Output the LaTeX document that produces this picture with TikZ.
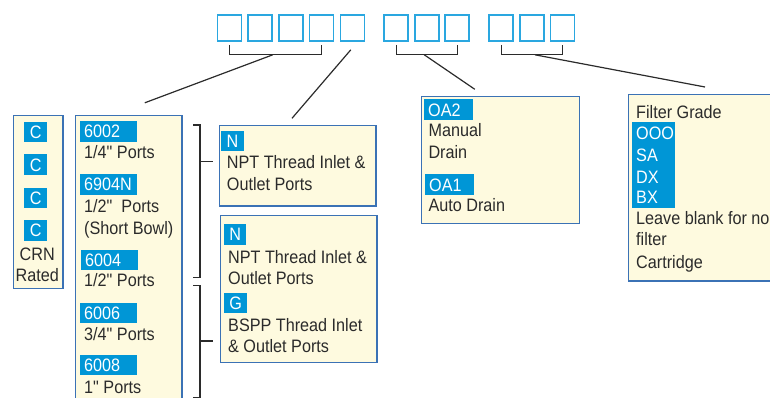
\documentclass[tikz,border=0pt]{standalone}
\usepackage{fontspec}
\setmainfont{Liberation Sans}[FakeStretch=0.9, Ligatures=TeXOff]
\usetikzlibrary{positioning, calc}

\definecolor{sqblue}{HTML}{2AA7E0}
\definecolor{tagblue}{HTML}{0096D6}
\definecolor{boxblue}{HTML}{3B72B5}
\definecolor{cream}{HTML}{FEFADF}
\definecolor{inkgray}{HTML}{2B2B2B}

\begin{document}
\begin{tikzpicture}[x=1pt, y=-1pt,
    every node/.style={font=\fontsize{18}{21.7}\selectfont, text=inkgray},
    sq/.style={rectangle, draw=sqblue, line width=1.6pt, minimum width=24pt, minimum height=26pt, inner sep=0pt},
    box/.style={rectangle, draw=boxblue, line width=1.5pt, fill=cream, anchor=north west, inner sep=0pt},
    tag/.style={rectangle, fill=tagblue, text=white, anchor=north west, inner xsep=4pt, inner ysep=0pt, minimum height=20.5pt, text height=12.9pt, text depth=0pt, text width=#1, align=left},
    ctag/.style={rectangle, fill=tagblue, text=white, anchor=north west, inner sep=0pt, minimum width=#1, minimum height=20.5pt, text height=12.9pt, text depth=0pt},
    txt/.style={anchor=base west, inner sep=0pt},
    brk/.style={draw=inkgray, line width=1.4pt},
    link/.style={draw=inkgray, line width=1.2pt}
]

    \useasboundingbox (0,0) rectangle (770,398);
    \clip (0,0) rectangle (770,398);

    % Code squares
    \foreach \i in {1,...,5} {
        \node[sq] (a\i) at ({229.5+30.7*(\i-1)}, 28) {};
    }
    \foreach \i in {1,2,3} {
        \node[sq] (o\i) at ({396.2+30.5*(\i-1)}, 28) {};
    }
    \foreach \i in {1,2,3} {
        \node[sq] (f\i) at ({501.2+30.65*(\i-1)}, 28) {};
    }

    % Brackets under the squares
    \draw[brk] ([yshift=-3pt]a1.south) -- ([yshift=-13pt]a1.south) -- ([yshift=-13pt]a4.south) -- ([yshift=-3pt]a4.south);
    \draw[brk] ([yshift=-3pt]o1.south) -- ([yshift=-13pt]o1.south) -- ([yshift=-13pt]o3.south) -- ([yshift=-3pt]o3.south);
    \draw[brk] ([yshift=-3pt]f1.south) -- ([yshift=-13pt]f1.south) -- ([yshift=-13pt]f3.south) -- ([yshift=-3pt]f3.south);
    \coordinate (m1) at ($([yshift=-13pt]a1.south)!0.47!([yshift=-13pt]a4.south)$);
    \coordinate (m2) at ($([yshift=-13pt]o1.south)!0.46!([yshift=-13pt]o3.south)$);
    \coordinate (m3) at ($([yshift=-13pt]f1.south)!0.55!([yshift=-13pt]f3.south)$);
    \coordinate (m4) at ([xshift=-1.5pt, yshift=-8pt]a5.south);

    % Boxes
    \node[box, minimum width=49.5pt, minimum height=172.8pt] (crn) at (12.5,114.8) {};
    \node[box, minimum width=106.2pt, minimum height=320pt] (series) at (74.8,114.8) {};
    \node[box, minimum width=156.5pt, minimum height=80.5pt] (npt) at (218.5,124.8) {};
    \node[box, minimum width=156.2pt, minimum height=146.8pt] (ports) at (219.8,214.8) {};
    \node[box, minimum width=157.8pt, minimum height=126.8pt] (drain) at (420.8,95.8) {};
    \node[box, minimum width=200pt, minimum height=186pt] (grade) at (627.5,94) {};

    % Leader lines
    \coordinate (e1) at ($(series.north west)+(70,-12)$);
    \coordinate (e2) at ($(npt.north west)+(73.5,-6.5)$);
    \coordinate (e3) at ($(drain.north west)+(54,-6.5)$);
    \coordinate (e4) at ($(grade.north west)+(77.5,-7)$);
    \draw[link] (m1) -- (e1);
    \draw[link] (m4) -- (e2);
    \draw[link] (m2) -- (e3);
    \draw[link] (m3) -- (e4);

    % Side brackets
    \draw[brk] (193.3,125) -- (200,125) -- (200,277.3) -- (193.3,277.3);
    \draw[brk] (200,161.7) -- (213.3,161.7);
    \draw[brk] (193.3,285.7) -- (200,285.7) -- (200,397.3) -- (193.3,397.3);
    \draw[brk] (200,341) -- (213.3,341);

    % CRN box
    \foreach \y [count=\k] in {121.7,154.3,187.3,220} {
        \node[ctag=23pt] (c\k) at (24,\y) {C};
    }
    \node[anchor=base, inner sep=0pt] (crn1) at (37.2,260.5) {CRN};
    \node[anchor=base, inner sep=0pt] (crn2) at (37.2,281.5) {Rated};

    % Series box
    \node[tag=49pt] (t1) at (80,121) {6002};
    \node[tag=49pt] (t2) at (80,174) {6904N};
    \node[tag=49pt] (t3) at (81,249.3) {6004};
    \node[tag=49pt] (t4) at (80,302.3) {6006};
    \node[tag=49pt] (t5) at (80,354.3) {6008};
    \node[txt] (p1) at (84,158.8) {1/4" Ports};
    \node[txt] (p2) at (84,212.5) {1/2"\ \ Ports};
    \node[txt] (p3) at (84,234.8) {(Short Bowl)};
    \node[txt] (p4) at (84,286.5) {1/2" Ports};
    \node[txt] (p5) at (84,340.8) {3/4" Ports};
    \node[txt] (p6) at (84,393.2) {1" Ports};

    % Port thread boxes
    \node[ctag=22.3pt] (n1) at (221,130.7) {N};
    \node[txt] (n1a) at (226.7,168.8) {NPT Thread Inlet \&};
    \node[txt] (n1b) at (226.7,190.5) {Outlet Ports};
    \node[ctag=22pt] (n2) at (224,224) {N};
    \node[txt] (n2a) at (228,263.2) {NPT Thread Inlet \&};
    \node[txt] (n2b) at (228,284.8) {Outlet Ports};
    \node[ctag=22.7pt] (g1) at (224,292.3) {G};
    \node[txt] (g1a) at (228,331.5) {BSPP Thread Inlet};
    \node[txt] (g1b) at (228,352.5) {\& Outlet Ports};

    % Drain box
    \node[tag=40.7pt] (oa2) at (424,99.3) {OA2};
    \node[txt] (d1) at (428.3,136.5) {Manual};
    \node[txt] (d2) at (428.3,158.2) {Drain};
    \node[tag=40.3pt] (oa1) at (425,174.3) {OA1};
    \node[txt] (d3) at (428.3,211.5) {Auto Drain};

    % Filter grade box
    \node[txt] (fg) at (636,118.2) {Filter Grade};
    \node[rectangle, fill=tagblue, anchor=north west, minimum width=43pt, minimum height=86pt, inner sep=0pt] (codes) at (632,121.7) {};
    \foreach \y/\s in {139.8/OOO, 161.5/SA, 183.2/DX, 203.8/BX} {
        \node[txt, text=white] at (636,\y) {\s};
    }
    \node[txt] (fl1) at (636,224.8) {Leave blank for no};
    \node[txt] (fl2) at (636,245.8) {filter};
    \node[txt] (fl3) at (636,268.2) {Cartridge};

\end{tikzpicture}
\end{document}
